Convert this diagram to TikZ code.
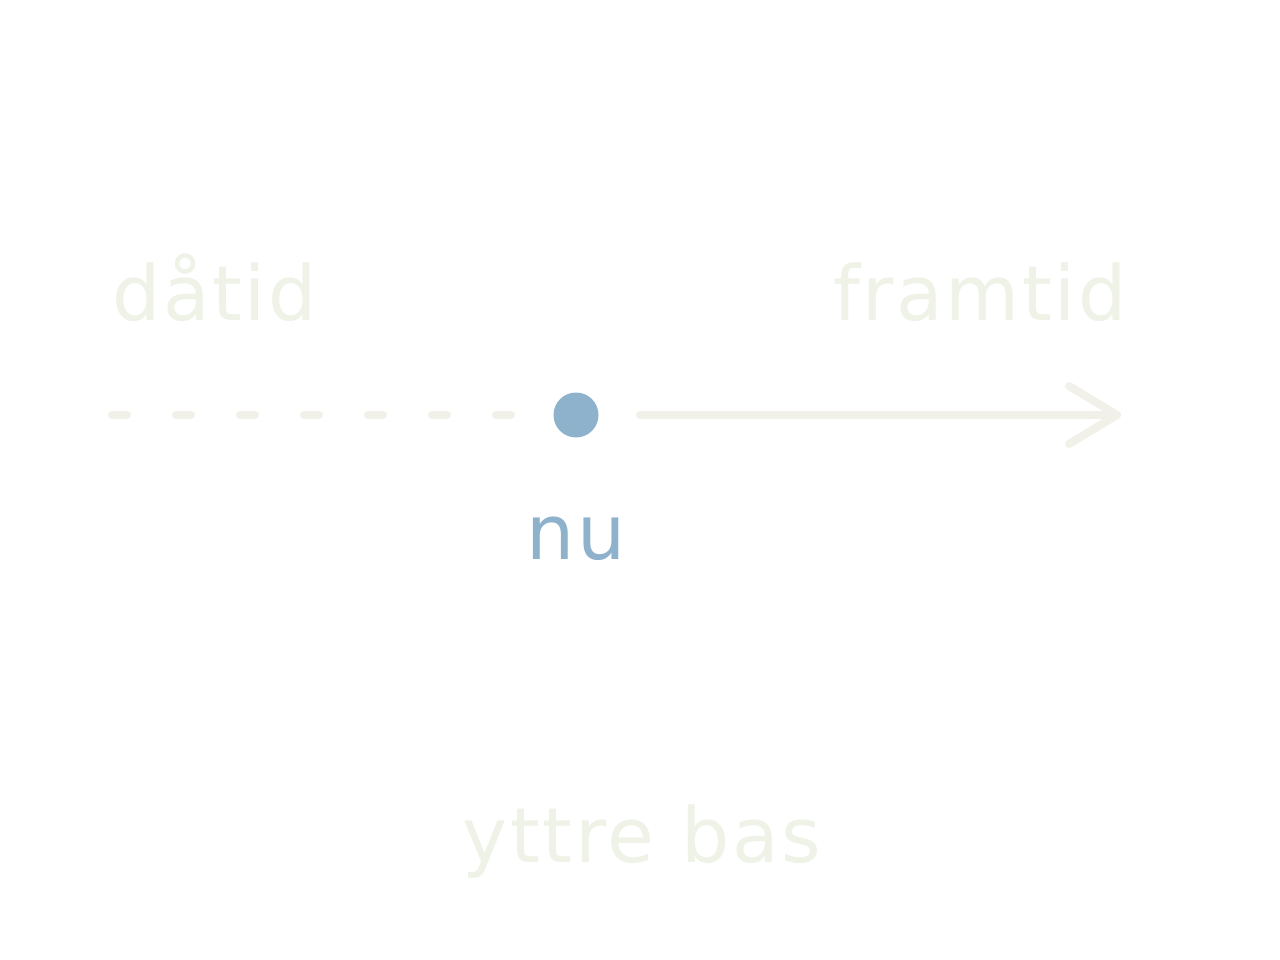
\documentclass[tikz,border=0pt]{standalone}
\usepackage{fontspec}
\setmainfont{DejaVu Sans}
\newfontfamily\spaced[LetterSpace=3.5]{DejaVu Sans}
\usetikzlibrary{arrows.meta}
\definecolor{pale}{HTML}{F1F1EA}
\definecolor{paletext}{HTML}{EFF2E6}
\definecolor{nowblue}{HTML}{8FB2CC}
\begin{document}
\begin{tikzpicture}[x=1pt,y=-1pt,
  lbl/.style={inner sep=0pt,font=\spaced\fontsize{76}{80}\selectfont,text=paletext},
  axis/.style={draw=pale,line width=8pt,line cap=round}]
\useasboundingbox[fill=white] (0,0) rectangle (1280,960);
\node[lbl,anchor=base west] (past) at (112,320) {dåtid};
\node[lbl,anchor=base east] (future) at (1127,320) {framtid};
\node[lbl,anchor=base] (base) at (642,862) {yttre bas};
\node[circle,fill=nowblue,minimum size=45pt,inner sep=0pt] (now) at (576,415) {};
\node[lbl,anchor=base,text=nowblue] (nulbl) at (576,559) {nu};
\coordinate (pstart) at (112,415);
\coordinate (pend) at (512,415);
\coordinate (fstart) at (640,415);
\coordinate (fend) at (1121,415);
\draw[axis,dash pattern=on 15pt off 49pt] (pstart) -- (pend);
\draw[axis,-{Straight Barb[length=48pt,width=58pt,line width=8pt,round]}] (fstart) -- (fend);
\end{tikzpicture}
\end{document}
